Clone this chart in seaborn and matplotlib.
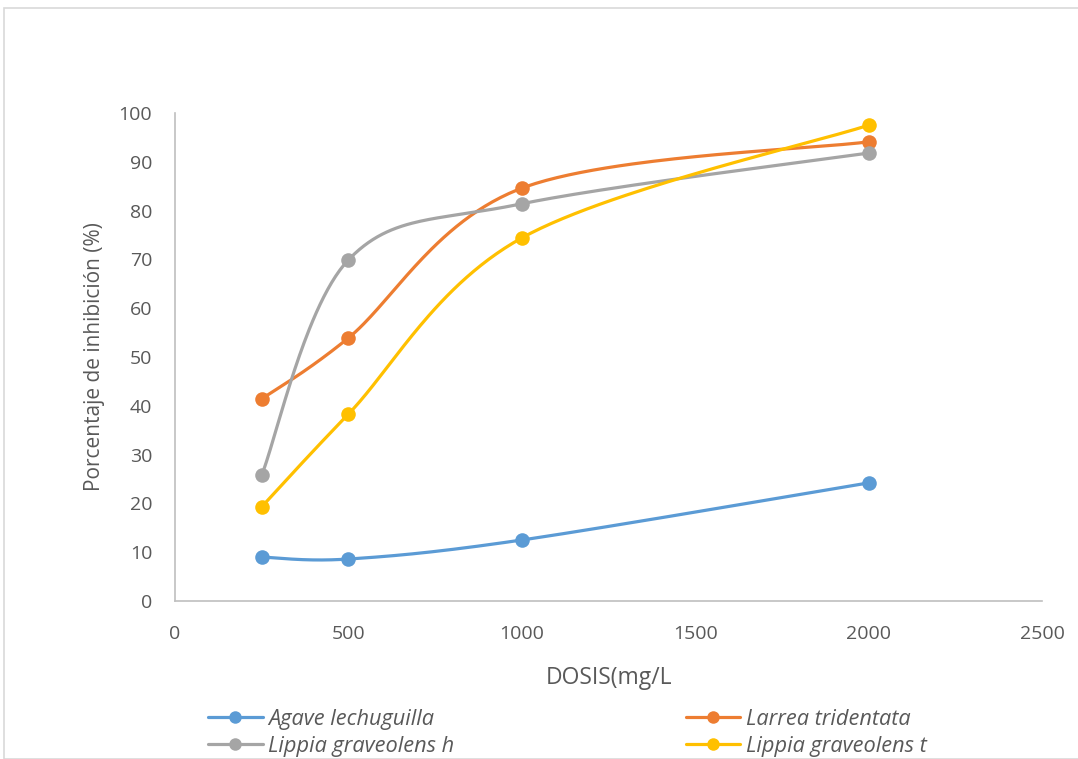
import numpy as np
import pandas as pd
import matplotlib
matplotlib.use("Agg")
import matplotlib.pyplot as plt
from matplotlib.lines import Line2D
from matplotlib.patches import Rectangle
import seaborn as sns

dosis = [250, 500, 1000, 2000]
agave = [9.0, 8.6, 12.5, 24.2]
larrea = [41.4, 53.9, 84.6, 94.1]
lippia_h = [25.8, 69.9, 81.4, 91.8]
lippia_t = [19.3, 38.3, 74.4, 97.5]
series_names = ["Agave lechuguilla", "Larrea tridentata", "Lippia graveolens h", "Lippia graveolens t"]
series_values = [agave, larrea, lippia_h, lippia_t]
colors = ["#5B9BD5", "#ED7D31", "#A5A5A5", "#FFC000"]
x_ticks = [0, 500, 1000, 1500, 2000, 2500]
y_ticks = [0, 10, 20, 30, 40, 50, 60, 70, 80, 90, 100]

sns.set_style("white")
plt.rcParams["font.family"] = ["Open Sans", "DejaVu Sans"]

W, H = 1078, 759
fig = plt.figure(figsize=(W / 100, H / 100), dpi=100)
ax = fig.add_axes([175 / W, 1 - 601 / H, (1042 - 175) / W, (601 - 113) / H])
ax.set_xlim(0, 2500)
ax.set_ylim(0, 100)

# pixel scaling for smoothing (Excel-like Bezier smoothing in screen space)
sx = (1042 - 175) / 2500
sy = (601 - 113) / 100


def smooth(xs, ys, t=1 / 6, n=60):
    P = np.column_stack([np.array(xs) * sx, np.array(ys) * sy])
    out = []
    m = len(P)
    for i in range(m - 1):
        p0 = P[i - 1] if i > 0 else P[i]
        p1, p2 = P[i], P[i + 1]
        p3 = P[i + 2] if i + 2 < m else P[i + 1]
        c1 = p1 + (p2 - p0) * t
        c2 = p2 - (p3 - p1) * t
        u = np.linspace(0, 1, n)[:, None]
        seg = ((1 - u) ** 3) * p1 + 3 * ((1 - u) ** 2) * u * c1 + 3 * (1 - u) * u ** 2 * c2 + u ** 3 * p2
        out.append(seg if i == 0 else seg[1:])
    arr = np.vstack(out)
    return arr[:, 0] / sx, arr[:, 1] / sy


for name, vals, col in zip(series_names, series_values, colors):
    cx, cy = smooth(dosis, vals)
    dfc = pd.DataFrame({"x": cx, "y": cy})
    sns.lineplot(data=dfc, x="x", y="y", sort=False, estimator=None, ax=ax,
                 color=col, linewidth=2.3, solid_capstyle="round", zorder=3)
    dfp = pd.DataFrame({"x": dosis, "y": vals})
    sns.scatterplot(data=dfp, x="x", y="y", ax=ax, color=col, s=110,
                    edgecolor=col, linewidth=0, zorder=4)

ax.set_xticks(x_ticks)
ax.set_yticks(y_ticks)
ax.tick_params(axis="both", length=0, labelsize=14, colors="#595959")
ax.tick_params(axis="y", pad=16.5)
ax.tick_params(axis="x", pad=17)
for s in ["top", "right"]:
    ax.spines[s].set_visible(False)
for s in ["left", "bottom"]:
    ax.spines[s].set_color("#BFBFBF")
    ax.spines[s].set_linewidth(1.2)
ax.grid(False)
ax.set_xlabel("DOSIS(mg/L", fontsize=16.5, color="#595959", labelpad=17)
ax.set_ylabel("Porcentaje de inhibición (%)", fontsize=15, color="#595959", labelpad=10)

# row-major order like the reference (matplotlib fills legend columns first)
order = [0, 2, 1, 3]
handles = [Line2D([0], [0], color=colors[i], lw=2.3, marker="o", markersize=9, markeredgewidth=0)
           for i in order]
labels = [series_names[i] for i in order]
leg = fig.legend(handles, labels, loc="upper left", bbox_to_anchor=(208 / W, 1 - 709 / H),
                 ncol=2, frameon=False, fontsize=15.7, columnspacing=10.6, handlelength=2.5,
                 handletextpad=0.27, labelspacing=0.28, borderaxespad=0, borderpad=0)
for t in leg.get_texts():
    t.set_fontstyle("italic")
    t.set_color("#595959")

fig.patches.append(Rectangle((4 / W, 0), 1.2, 1 - 8 / H, transform=fig.transFigure,
                             fill=False, edgecolor="#D9D9D9", linewidth=1.2))

fig.savefig("out.png", dpi=100)
